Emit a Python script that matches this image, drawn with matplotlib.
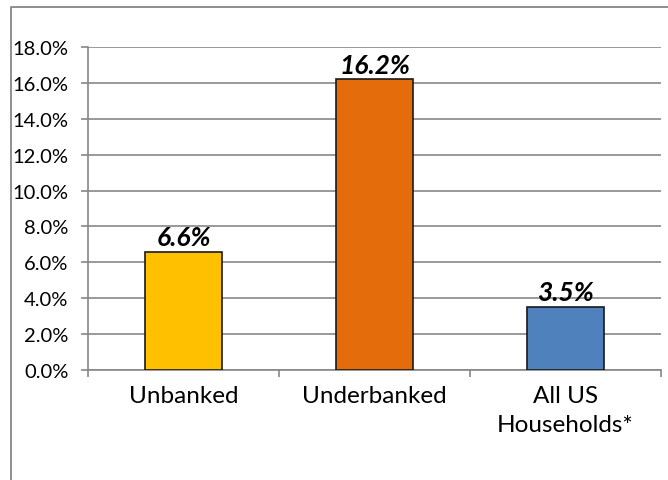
import matplotlib
matplotlib.use("Agg")
import matplotlib.pyplot as plt
from matplotlib.lines import Line2D
from matplotlib.ticker import FuncFormatter, FixedLocator

# data
categories = ["Unbanked", "Underbanked", "All US\nHouseholds*"]
values = [6.6, 16.2, 3.5]
colors = ["#FFC000", "#E46C0A", "#4F81BD"]

plt.rcParams['font.family'] = ['Lato', 'DejaVu Sans']

fig = plt.figure(figsize=(6.68, 4.81), dpi=100)
ax = fig.add_axes([88/668, 1 - 371/481, (661 - 88)/668, (371 - 48)/481])

x = range(len(categories))
bars = ax.bar(x, values, width=0.4, color=colors, edgecolor="#1a1a1a", linewidth=1.2, zorder=3)

for b, v in zip(bars, values):
    ax.annotate(f"{v:.1f}%", (b.get_x() + b.get_width()/2, v), xytext=(0, 2),
                textcoords="offset points", ha="center", va="bottom",
                fontsize=19, fontweight="bold", fontstyle="italic", color="black", zorder=4)

ax.set_xlim(-0.5, len(categories) - 0.5)
ax.set_ylim(0, 18)
ax.set_yticks([i*2 for i in range(10)])
ax.yaxis.set_major_formatter(FuncFormatter(lambda v, p: f"{v:.1f}%"))
ax.yaxis.grid(True, color="#878787", linewidth=1.2, zorder=0)

ax.set_xticks(list(x))
ax.set_xticklabels(categories, fontsize=17.5, linespacing=1.45)
ax.xaxis.set_minor_locator(FixedLocator([i - 0.5 for i in range(len(categories) + 1)]))
ax.tick_params(axis="x", which="major", length=0, pad=11)
ax.tick_params(axis="x", which="minor", length=5, color="#878787", width=1.2)
ax.tick_params(axis="y", length=5, color="#878787", width=1.2, labelsize=14.5, pad=9)

for s in ["top", "right"]:
    ax.spines[s].set_visible(False)
for s in ["left", "bottom"]:
    ax.spines[s].set_color("#878787")
    ax.spines[s].set_linewidth(1.2)

# outer chart border (only left and top visible)
bx = 11/668
by = 1 - 8/481
fig.add_artist(Line2D([bx, bx, 1.0], [0.0, by, by], transform=fig.transFigure,
                      color="#868686", linewidth=1.3))

fig.savefig("out.png", dpi=100)
